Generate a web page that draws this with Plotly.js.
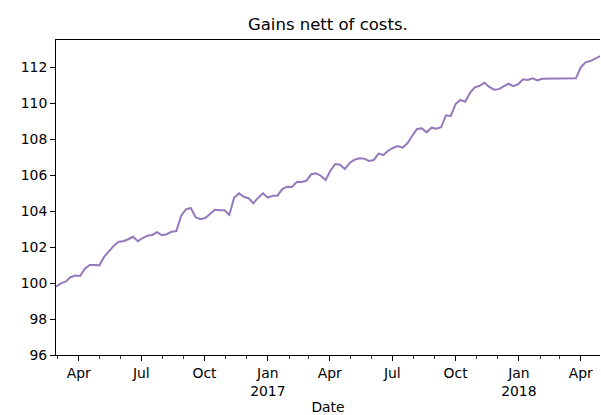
<!DOCTYPE html>
<html>
<head>
<meta charset="utf-8">
<script src="https://cdn.plot.ly/plotly-3.0.1.min.js"></script>
<style>html,body{margin:0;padding:0;background:#fff}#chart{width:601px;height:415px}</style>
</head>
<body>
<div id="chart"></div>
<script>
const dates = [
 '2016-02-28','2016-03-06','2016-03-13','2016-03-20','2016-03-27',
 '2016-04-03','2016-04-10','2016-04-17','2016-04-24',
 '2016-05-01','2016-05-08','2016-05-15','2016-05-22','2016-05-29',
 '2016-06-05','2016-06-12','2016-06-19','2016-06-26',
 '2016-07-03','2016-07-10','2016-07-17','2016-07-24','2016-07-31',
 '2016-08-07','2016-08-14','2016-08-21','2016-08-28',
 '2016-09-04','2016-09-11','2016-09-18','2016-09-25',
 '2016-10-02','2016-10-09','2016-10-16','2016-10-23','2016-10-30',
 '2016-11-06','2016-11-13','2016-11-20','2016-11-27',
 '2016-12-04','2016-12-11','2016-12-18','2016-12-25',
 '2017-01-01','2017-01-08','2017-01-15','2017-01-22','2017-01-29',
 '2017-02-05','2017-02-12','2017-02-19','2017-02-26',
 '2017-03-05','2017-03-12','2017-03-19','2017-03-26',
 '2017-04-02','2017-04-09','2017-04-16','2017-04-23','2017-04-30',
 '2017-05-07','2017-05-14','2017-05-21','2017-05-28',
 '2017-06-04','2017-06-11','2017-06-18','2017-06-25',
 '2017-07-02','2017-07-09','2017-07-16','2017-07-23','2017-07-30',
 '2017-08-06','2017-08-13','2017-08-20','2017-08-27',
 '2017-09-03','2017-09-10','2017-09-17','2017-09-24',
 '2017-10-01','2017-10-08','2017-10-15','2017-10-22','2017-10-29',
 '2017-11-05','2017-11-12','2017-11-19','2017-11-26',
 '2017-12-03','2017-12-10','2017-12-17','2017-12-24','2017-12-31',
 '2018-01-07','2018-01-14','2018-01-21','2018-01-28',
 '2018-02-04','2018-02-11','2018-02-18','2018-02-25',
 '2018-03-04','2018-03-11','2018-03-18','2018-03-25',
 '2018-04-01','2018-04-08','2018-04-15','2018-04-22','2018-04-29'
];
const gains = [
 99.79, 99.98, 100.07, 100.32, 100.41,
 100.39, 100.79, 101.00, 101.00,
 100.98, 101.46, 101.78, 102.06, 102.29,
 102.32, 102.43, 102.57, 102.32,
 102.50, 102.63, 102.67, 102.83, 102.65,
 102.71, 102.85, 102.89, 103.74,
 104.09, 104.17, 103.65, 103.54,
 103.61, 103.84, 104.07, 104.04, 104.04,
 103.78, 104.74, 104.98, 104.79,
 104.71, 104.43, 104.74, 104.98,
 104.74, 104.85, 104.85, 105.22, 105.35,
 105.33, 105.61, 105.61, 105.68,
 106.04, 106.09, 105.96, 105.72,
 106.24, 106.61, 106.57, 106.33, 106.67,
 106.85, 106.93, 106.91, 106.78,
 106.83, 107.18, 107.11, 107.35,
 107.50, 107.61, 107.52, 107.76, 108.18,
 108.56, 108.59, 108.37, 108.63,
 108.57, 108.65, 109.32, 109.28,
 109.94, 110.17, 110.07, 110.57, 110.87,
 110.96, 111.13, 110.89, 110.74,
 110.77, 110.94, 111.07, 110.94, 111.04,
 111.32, 111.28, 111.37, 111.26,
 111.35, 111.35, 111.35, 111.36,
 111.36, 111.36, 111.37, 111.37,
 111.98, 112.26, 112.33, 112.48, 112.61
];
const tickDates = ['2016-04-01','2016-07-01','2016-10-01','2017-01-01','2017-04-01','2017-07-01','2017-10-01','2018-01-01','2018-04-01'];
const tickLabels = ['Apr','Jul','Oct','Jan<br>2017','Apr','Jul','Oct','Jan<br>2018','Apr'];
const yTicks = [96, 98, 100, 102, 104, 106, 108, 110, 112];

const font = {family: 'DejaVu Sans, sans-serif', size: 13.9, color: '#000'};

Plotly.newPlot('chart', [{
  x: dates, y: gains, type: 'scatter', mode: 'lines',
  line: {color: '#9579bd', width: 2}, hoverinfo: 'skip'
}], {
  width: 601, height: 415,
  margin: {l: 56, r: 1, t: 40, b: 60},
  paper_bgcolor: '#fff', plot_bgcolor: '#fff',
  showlegend: false,
  font: font,
  title: {text: 'Gains nett of costs.', font: {family: 'DejaVu Sans, sans-serif', size: 16.5, color: '#000'},
          x: 0.5455, xanchor: 'center', xref: 'container', yref: 'container', y: 0.942, yanchor: 'middle'},
  xaxis: {
    type: 'date', range: [dates[0], dates[dates.length - 1]],
    tickmode: 'array', tickvals: tickDates, ticktext: tickLabels,
    ticks: 'outside', ticklen: 5, tickwidth: 1, tickcolor: '#000',
    minor: {dtick: 'M1', tick0: '2016-01-01', ticks: 'outside', ticklen: 3, tickwidth: 0.8, tickcolor: '#000', showgrid: false},
    showline: true, linecolor: '#000', linewidth: 1, mirror: true,
    showgrid: false, zeroline: false,
    tickfont: font,
    title: {text: 'Date', font: font, standoff: 6},
    automargin: false
  },
  yaxis: {
    range: [96, 113.5], tickmode: 'array', tickvals: yTicks,
    ticks: 'outside', ticklen: 5, tickwidth: 1, tickcolor: '#000',
    showline: true, linecolor: '#000', linewidth: 1,
    showgrid: false, zeroline: false,
    tickfont: font, automargin: false
  }
}, {staticPlot: true});
</script>
</body>
</html>
